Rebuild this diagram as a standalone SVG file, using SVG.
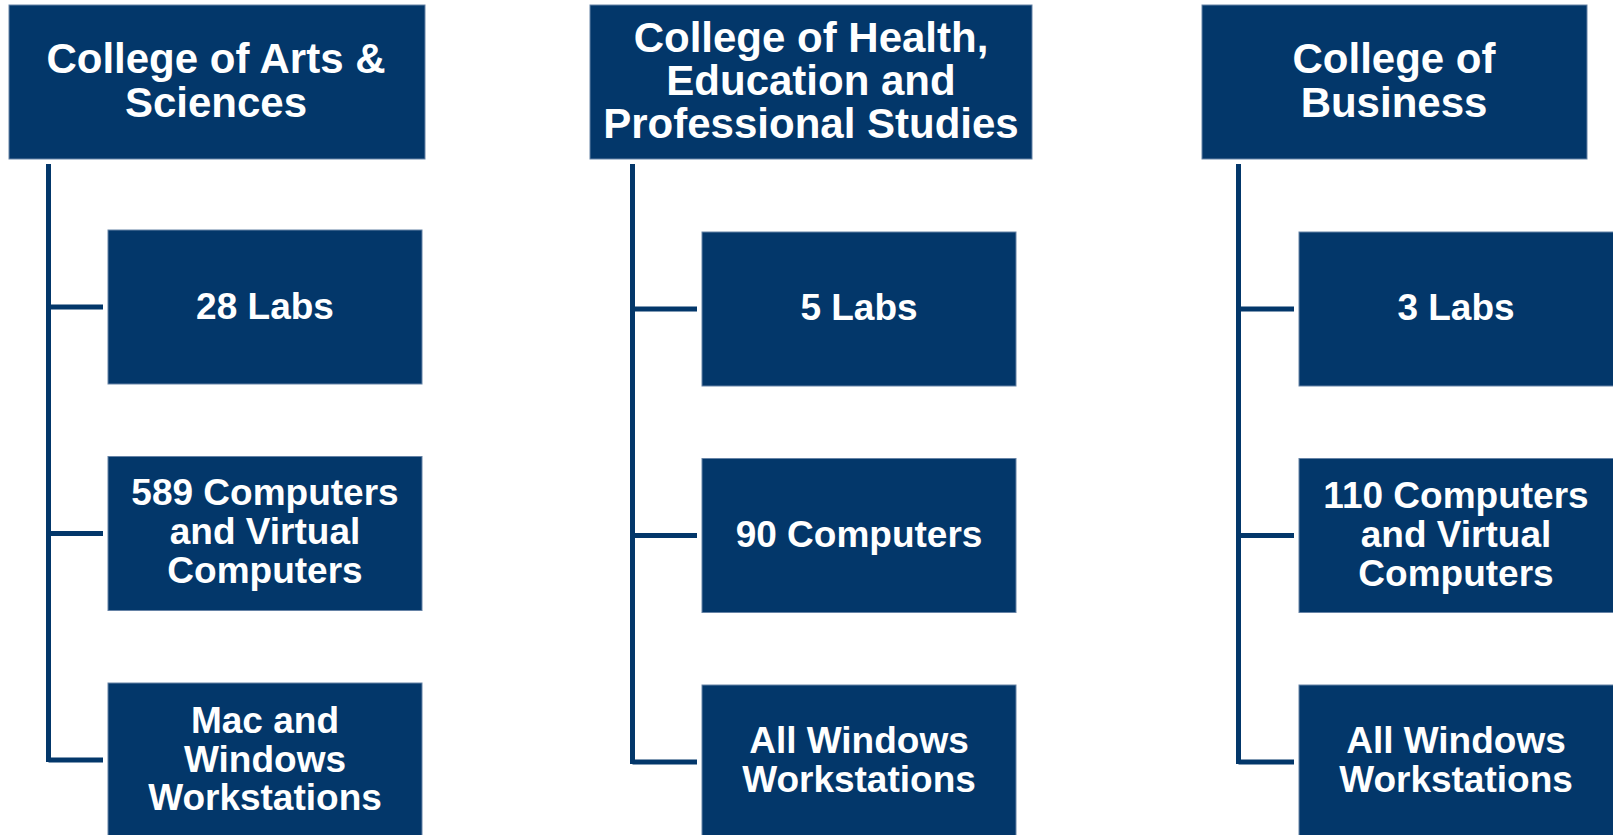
<svg xmlns="http://www.w3.org/2000/svg" width="1613" height="835" viewBox="0 0 1613 835">
<style>
.box{fill:#03376a;stroke:#6683a6;stroke-width:1}
.conn{fill:none;stroke:#03376a;stroke-width:5}
.h{font-family:"Liberation Sans",Arial,sans-serif;font-weight:bold;font-size:42px;fill:#fff;text-anchor:middle}
.c{font-family:"Liberation Sans",Arial,sans-serif;font-weight:bold;font-size:37px;fill:#fff;text-anchor:middle}
</style>
<rect width="1613" height="835" fill="#fff"/>
<g id="connectors">
<path class="conn" d="M48.5 164 V762 M48.5 307 H103 M48.5 533.5 H103 M48.5 760 H103"/>
<path class="conn" d="M632.5 164 V764 M632.5 309 H697 M632.5 535.5 H697 M632.5 762 H697"/>
<path class="conn" d="M1238.5 164 V764 M1238.5 309 H1294 M1238.5 535.5 H1294 M1238.5 762 H1294"/>
</g>
<g id="head-arts"><rect class="box" x="9" y="5" width="416" height="154"/><text class="h" x="216" y="72.7">College of Arts &amp;</text><text class="h" x="216" y="116.7">Sciences</text></g>
<g id="head-health"><rect class="box" x="590" y="5" width="442" height="154"/><text class="h" x="811" y="51.7">College of Health,</text><text class="h" x="811" y="95">Education and</text><text class="h" x="811" y="138.3">Professional Studies</text></g>
<g id="head-business"><rect class="box" x="1202" y="5" width="385" height="154"/><text class="h" x="1394" y="72.7">College of</text><text class="h" x="1394" y="116.7">Business</text></g>
<g id="arts-labs"><rect class="box" x="108" y="230" width="314" height="154"/><text class="c" x="265" y="319">28 Labs</text></g>
<g id="arts-computers"><rect class="box" x="108" y="456.5" width="314" height="154"/><text class="c" x="265" y="505">589 Computers</text><text class="c" x="265" y="544">and Virtual</text><text class="c" x="265" y="583">Computers</text></g>
<g id="arts-os"><rect class="box" x="108" y="683" width="314" height="154"/><text class="c" x="265" y="732.7">Mac and</text><text class="c" x="265" y="771.7">Windows</text><text class="c" x="265" y="810">Workstations</text></g>
<g id="health-labs"><rect class="box" x="702" y="232" width="314" height="154"/><text class="c" x="859" y="320">5 Labs</text></g>
<g id="health-computers"><rect class="box" x="702" y="458.5" width="314" height="154"/><text class="c" x="859" y="546.7">90 Computers</text></g>
<g id="health-os"><rect class="box" x="702" y="685" width="314" height="154"/><text class="c" x="859" y="753.3">All Windows</text><text class="c" x="859" y="791.7">Workstations</text></g>
<g id="business-labs"><rect class="box" x="1299" y="232" width="316" height="154"/><text class="c" x="1456" y="320">3 Labs</text></g>
<g id="business-computers"><rect class="box" x="1299" y="458.5" width="316" height="154"/><text class="c" x="1456" y="508.3">110 Computers</text><text class="c" x="1456" y="546.7">and Virtual</text><text class="c" x="1456" y="585.7">Computers</text></g>
<g id="business-os"><rect class="box" x="1299" y="685" width="316" height="154"/><text class="c" x="1456" y="753.3">All Windows</text><text class="c" x="1456" y="791.7">Workstations</text></g>
</svg>
